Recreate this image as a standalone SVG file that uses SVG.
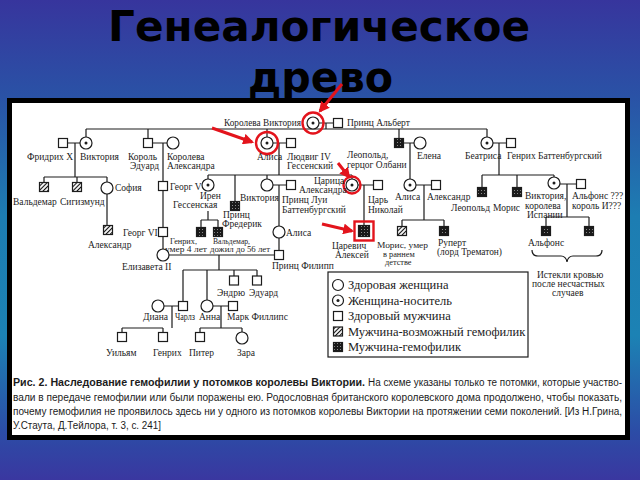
<svg xmlns="http://www.w3.org/2000/svg" width="640" height="480" viewBox="0 0 640 480">
<defs>
<linearGradient id="bg" x1="0" y1="0" x2="0" y2="1">
<stop offset="0" stop-color="#37359d"/>
<stop offset="0.2" stop-color="#2a52a6"/>
<stop offset="0.45" stop-color="#1d7db2"/>
<stop offset="0.7" stop-color="#1c82b4"/>
<stop offset="0.9" stop-color="#2c4ca6"/>
<stop offset="1" stop-color="#3a37a0"/>
</linearGradient>
<pattern id="hatch" width="3" height="3" patternUnits="userSpaceOnUse" patternTransform="rotate(45)">
<rect width="3" height="3" fill="#fff"/>
<line x1="0.5" y1="0" x2="0.5" y2="3" stroke="#111" stroke-width="1.2"/>
</pattern>
<pattern id="hemo" width="3" height="3" patternUnits="userSpaceOnUse">
<rect width="3" height="3" fill="#1a1a1a"/>
<rect x="1" y="1" width="1" height="1" fill="#8a8a8a"/>
</pattern>
<marker id="ra" viewBox="0 0 10 10" refX="8" refY="5" markerWidth="11" markerHeight="11" markerUnits="userSpaceOnUse" orient="auto">
<path d="M0,0 L10,5 L0,10 z" fill="#e3141c"/>
</marker>
<style>
.title{font-family:"DejaVu Sans","Liberation Sans",sans-serif;font-weight:bold;font-size:42px;fill:#000}
.t{font-family:"Liberation Serif","Times New Roman",serif;font-size:9.5px;fill:#1c1c1c}
.s{font-size:8.3px}
.lg{font-family:"Liberation Serif","Times New Roman",serif;font-size:12.5px;fill:#1c1c1c}
.cap{font-family:"Liberation Sans",Arial,sans-serif;font-size:10px;fill:#1c1c1c}
.capb{font-weight:bold}
.f{fill:#fff;stroke:#1c1c1c;stroke-width:1.2}
.m{fill:#fff;stroke:#1c1c1c;stroke-width:1.2}
.h{fill:url(#hatch);stroke:#1c1c1c;stroke-width:1.2}
.x{fill:url(#hemo);stroke:#1c1c1c;stroke-width:1.2}
.dot{fill:#1c1c1c}
.ln{fill:none;stroke:#1c1c1c;stroke-width:1.2}
.red{fill:none;stroke:#e3141c;stroke-width:2.4}
.arr{fill:none;stroke:#e3141c;stroke-width:3;marker-end:url(#ra)}
</style>
</defs>

<rect width="640" height="480" fill="url(#bg)"/>

<text class="title" x="108" y="41" textLength="422" lengthAdjust="spacingAndGlyphs">Генеалогическое</text>
<text class="title" x="248" y="92" textLength="145" lengthAdjust="spacingAndGlyphs">древо</text>

<rect x="9.5" y="100.5" width="618" height="337" fill="#fff" stroke="#000" stroke-width="5"/>

<g id="connectors">
<path class="ln" d="M319,123 H333.5 M326,123 V129 M86,129 H487"/>
<path class="ln" d="M86,129 V137 M148,129 V138.5 M267,129 V137 M399,129 V138.5 M487,129 V137"/>
<path class="ln" d="M67.5,143 H80 M75,143 V177 M44,177 H107 M44,177 V182.5 M77,177 V182.5 M107,177 V182 M107,194 V225.5"/>
<path class="ln" d="M152.5,143 H167 M163,143 V181.5 M163,190.5 V227.5 M163,236.5 V249"/>
<path class="ln" d="M273,143 H286.5 M279,143 V175 M208,175 H352 M208,175 V179 M235,175 V201.5 M267,175 V179 M352,175 V179"/>
<path class="ln" d="M208,211 V220 M201,220 H218 M201,220 V227.5 M218,220 V227.5"/>
<path class="ln" d="M273,185 H286.5 M279,185 V226 M279,238 V250.5"/>
<path class="ln" d="M358,185 H373.5 M364,185 V225.5"/>
<path class="ln" d="M403.5,143 H414 M410,143 V179 M416,185 H431.5 M424,185 V220 M402,220 H444 M402,220 V226.5 M444,220 V226.5"/>
<path class="ln" d="M493,143 H506.5 M499,143 V175 M482,175 H554 M482,175 V187.5 M517,175 V187.5 M554,175 V177"/>
<path class="ln" d="M560,184 H576.5 M567,184 V217 M546,217 H589 M546,217 V226.5 M589,217 V226.5"/>
<path class="ln" d="M169,255 H274.5 M219,255 V270 M183,270 H257 M183,270 V301.5 M207,270 V300 M234,270 V276 M257,270 V276"/>
<path class="ln" d="M164,306 H178.5 M172,306 V328 M122,328 H163 M122,328 V332.5 M163,328 V332.5"/>
<path class="ln" d="M213,306 H228.5 M221,306 V328 M200,328 H242 M200,328 V332.5 M242,328 V332"/>
<path class="ln" d="M532,250 q0,6 6,6 h23 q5,0 6,6 q1,-6 6,-6 h23 q6,0 6,-6"/>
</g>

<g id="n-victoria"><circle class="f" cx="313" cy="123" r="6"/><circle class="dot" cx="313" cy="123" r="1.5"/><circle class="red" cx="313" cy="123" r="10.5"/><text class="t" x="224" y="126" textLength="77" lengthAdjust="spacingAndGlyphs">Королева Виктория</text></g>
<g id="n-albert"><rect class="m" x="333.5" y="118.5" width="9" height="9"/><text class="t" x="347" y="126">Принц Альберт</text></g>

<g id="n-friedrich"><rect class="m" x="58.5" y="138.5" width="9" height="9"/><text class="t" x="27" y="160">Фридрих X</text></g>
<g id="n-victoria2"><circle class="f" cx="86" cy="143" r="6"/><circle class="dot" cx="86" cy="143" r="1.5"/><text class="t" x="80" y="160">Виктория</text></g>
<g id="n-edward"><rect class="m" x="143.5" y="138.5" width="9" height="9"/><text class="t" x="128" y="160">Король</text><text class="t" x="130" y="169">Эдуард</text></g>
<g id="n-alexandra"><circle class="f" cx="173" cy="143" r="6"/><text class="t" x="167" y="160">Королева</text><text class="t" x="167" y="169">Александра</text></g>
<g id="n-alice"><circle class="f" cx="267" cy="143" r="6"/><circle class="dot" cx="267" cy="143" r="1.5"/><circle class="red" cx="267" cy="143" r="11"/><text class="t" x="257" y="160">Алиса</text></g>
<g id="n-ludwig"><rect class="m" x="286.5" y="138.5" width="9" height="9"/><text class="t" x="287" y="160">Людвиг IV</text><text class="t" x="287" y="169">Гессенский</text></g>
<g id="n-leopold"><rect class="x" x="394.5" y="138.5" width="9" height="9"/><text class="t" x="347" y="158">Леопольд,</text><text class="t" x="347" y="168">герцог Олбани</text></g>
<g id="n-elena"><circle class="f" cx="420" cy="143" r="6"/><text class="t" x="417" y="159">Елена</text></g>
<g id="n-beatrice"><circle class="f" cx="487" cy="143" r="6"/><circle class="dot" cx="487" cy="143" r="1.5"/><text class="t" x="465" y="159">Беатриса</text></g>
<g id="n-henry-b"><rect class="m" x="506.5" y="138.5" width="9" height="9"/><text class="t" x="507" y="159">Генрих Баттенбургский</text></g>

<g id="n-waldemar1"><rect class="h" x="39.5" y="182.5" width="9" height="9"/><text class="t" x="13" y="205">Вальдемар</text></g>
<g id="n-sigismund"><rect class="h" x="72.5" y="182.5" width="9" height="9"/><text class="t" x="60" y="205">Сигизмунд</text></g>
<g id="n-sophia"><circle class="f" cx="107" cy="188" r="6"/><text class="t" x="115" y="191">София</text></g>
<g id="n-george5"><rect class="m" x="158.5" y="181.5" width="9" height="9"/><text class="t" x="170" y="190">Георг V</text></g>
<g id="n-irene"><circle class="f" cx="208" cy="185" r="6"/><circle class="dot" cx="208" cy="185" r="1.5"/><text class="t" x="200" y="199">Ирен</text><text class="t" x="173" y="208">Гессенская</text></g>
<g id="n-frederick"><rect class="x" x="230.5" y="201.5" width="9" height="9"/><text class="t" x="223" y="218">Принц</text><text class="t" x="222" y="227">Фредерик</text></g>
<g id="n-victoria3"><circle class="f" cx="267" cy="185" r="6"/><text class="t" x="240" y="201">Виктория</text></g>
<g id="n-louis"><rect class="m" x="286.5" y="180.5" width="9" height="9"/><text class="t" x="282" y="203">Принц Луи</text><text class="t" x="282" y="213">Баттенбургский</text></g>
<g id="n-tsarina"><circle class="f" cx="352" cy="185" r="6"/><circle class="dot" cx="352" cy="185" r="1.5"/><circle class="red" cx="352" cy="185" r="8.5"/><text class="t" x="314" y="184">Царица</text><text class="t" x="299" y="193">Александра</text></g>
<g id="n-nicholas"><rect class="m" x="373.5" y="180.5" width="9" height="9"/><text class="t" x="368" y="203">Царь</text><text class="t" x="368" y="213">Николай</text></g>
<g id="n-alice2"><circle class="f" cx="410" cy="185" r="6"/><circle class="dot" cx="410" cy="185" r="1.5"/><text class="t" x="395" y="200">Алиса</text></g>
<g id="n-alexander"><rect class="m" x="431.5" y="180.5" width="9" height="9"/><text class="t" x="427" y="200">Александр</text></g>
<g id="n-leopold2"><rect class="x" x="477.5" y="187.5" width="9" height="9"/><text class="t" x="451" y="211">Леопольд</text></g>
<g id="n-maurice"><rect class="x" x="512.5" y="187.5" width="9" height="9"/><text class="t" x="493" y="211">Морис</text></g>
<g id="n-victoria-es"><circle class="f" cx="554" cy="183" r="6"/><circle class="dot" cx="554" cy="183" r="1.5"/><text class="t" x="525" y="199">Виктория,</text><text class="t" x="525" y="209">королева</text><text class="t" x="527" y="218">Испании</text></g>
<g id="n-alfonso"><rect class="m" x="576.5" y="179.5" width="9" height="9"/><text class="t" x="572" y="199">Альфонс ???</text><text class="t" x="572" y="209">король И???</text></g>

<g id="n-alexander2"><rect class="h" x="103.5" y="225.5" width="9" height="9"/><text class="t" x="88" y="248">Александр</text></g>
<g id="n-george6"><rect class="m" x="158.5" y="227.5" width="9" height="9"/><text class="t" x="123" y="236">Георг VI</text></g>
<g id="n-heinrich"><rect class="x" x="196.5" y="227.5" width="9" height="9"/><text class="t s" x="170" y="244" textLength="27" lengthAdjust="spacingAndGlyphs">Генрих,</text><text class="t s" x="165" y="252" textLength="42" lengthAdjust="spacingAndGlyphs">умер 4 лет</text></g>
<g id="n-waldemar2"><rect class="x" x="213.5" y="227.5" width="9" height="9"/><text class="t s" x="213" y="244" textLength="37" lengthAdjust="spacingAndGlyphs">Вальдемар,</text><text class="t s" x="210" y="252" textLength="60" lengthAdjust="spacingAndGlyphs">дожил до 56 лет</text></g>
<g id="n-alice3"><circle class="f" cx="279" cy="232" r="6"/><text class="t" x="286" y="236">Алиса</text></g>
<g id="n-alexei"><rect class="x" x="358.5" y="225.5" width="11" height="11"/><rect class="red" x="354.5" y="221.5" width="19" height="19"/><text class="t" x="332" y="249">Царевич</text><text class="t" x="335" y="258">Алексей</text></g>
<g id="n-maurice2"><rect class="h" x="397.5" y="226.5" width="9" height="9"/><text class="t s" x="377" y="248" textLength="51" lengthAdjust="spacingAndGlyphs">Морис, умер</text><text class="t s" x="383" y="256.5">в раннем</text><text class="t s" x="385" y="265">детстве</text></g>
<g id="n-rupert"><rect class="x" x="439.5" y="226.5" width="9" height="9"/><text class="t" x="438" y="246">Руперт</text><text class="t" x="437" y="255" textLength="65" lengthAdjust="spacingAndGlyphs">(лорд Трематон)</text></g>
<g id="n-alfonso2"><rect class="x" x="541.5" y="226.5" width="9" height="9"/><text class="t" x="528" y="246">Альфонс</text></g>
<g id="n-gonzalo"><rect class="x" x="584.5" y="226.5" width="9" height="9"/></g>
<g id="n-brace-note"><text class="t" x="537" y="278">Истекли кровью</text><text class="t" x="532" y="287">после несчастных</text><text class="t" x="552" y="296">случаев</text></g>

<g id="n-elizabeth"><circle class="f" cx="163" cy="255" r="6"/><text class="t" x="122" y="270">Елизавета II</text></g>
<g id="n-philip"><rect class="m" x="274.5" y="250.5" width="9" height="9"/><text class="t" x="272" y="269">Принц Филипп</text></g>

<g id="n-andrew"><rect class="m" x="229.5" y="276" width="9" height="9"/><text class="t" x="217" y="296">Эндрю</text></g>
<g id="n-edward2"><rect class="m" x="252.5" y="276" width="9" height="9"/><text class="t" x="249" y="296">Эдуард</text></g>
<g id="n-diana"><circle class="f" cx="158" cy="306" r="6"/><text class="t" x="143" y="320">Диана</text></g>
<g id="n-charles"><rect class="m" x="178.5" y="301.5" width="9" height="9"/><text class="t" x="175" y="320" textLength="20" lengthAdjust="spacingAndGlyphs">Чарлз</text></g>
<g id="n-anne"><circle class="f" cx="207" cy="306" r="6"/><text class="t" x="199" y="320">Анна</text></g>
<g id="n-mark"><rect class="m" x="228.5" y="301.5" width="9" height="9"/><text class="t" x="227" y="320">Марк Филлипс</text></g>
<g id="n-william"><rect class="m" x="117.5" y="332.5" width="9" height="9"/><text class="t" x="106" y="356">Уильям</text></g>
<g id="n-harry"><rect class="m" x="158.5" y="332.5" width="9" height="9"/><text class="t" x="153" y="356">Генрих</text></g>
<g id="n-peter"><rect class="m" x="195.5" y="332.5" width="9" height="9"/><text class="t" x="189" y="356">Питер</text></g>
<g id="n-zara"><circle class="f" cx="242" cy="338" r="6"/><text class="t" x="237" y="356">Зара</text></g>

<g id="legend">
<rect x="328" y="272" width="200" height="85" fill="#fff" stroke="#1c1c1c" stroke-width="1.2"/>
<circle class="f" cx="338" cy="285" r="5.5"/><text class="lg" x="348" y="289">Здоровая женщина</text>
<circle class="f" cx="338" cy="300.5" r="5.5"/><circle class="dot" cx="338" cy="300.5" r="1.5"/><text class="lg" x="348" y="304.5">Женщина-носитель</text>
<rect class="m" x="333.5" y="311.5" width="9" height="9"/><text class="lg" x="348" y="320">Здоровый мужчина</text>
<rect class="h" x="333.5" y="327" width="9" height="9"/><text class="lg" x="348" y="335.5">Мужчина-возможный гемофилик</text>
<rect class="x" x="333.5" y="342.5" width="9" height="9"/><text class="lg" x="348" y="351">Мужчина-гемофилик</text>
</g>

<g id="arrows">
<line class="arr" x1="342" y1="84" x2="320" y2="111"/>
<line class="arr" x1="212" y1="128" x2="252" y2="142"/>
<line class="arr" x1="338" y1="163" x2="349" y2="177"/>
<line class="arr" x1="322" y1="224" x2="352" y2="231"/>
</g>

<g id="caption">
<text class="cap" y="386"><tspan class="capb" x="13" textLength="352" lengthAdjust="spacingAndGlyphs">Рис. 2. Наследование гемофилии у потомков королевы Виктории.</tspan><tspan x="368" textLength="254" lengthAdjust="spacingAndGlyphs">На схеме указаны только те потомки, которые участво-</tspan></text>
<text class="cap" x="13" y="401" textLength="609" lengthAdjust="spacingAndGlyphs">вали в передаче гемофилии или были поражены ею. Родословная британского королевского дома продолжено, чтобы показать,</text>
<text class="cap" x="13" y="415" textLength="609" lengthAdjust="spacingAndGlyphs">почему гемофилия не проявилось здесь ни у одного из потомков королевы Виктории на протяжении семи поколений. [Из Н.Грина,</text>
<text class="cap" x="13" y="429" textLength="148" lengthAdjust="spacingAndGlyphs">У.Стаута, Д.Тейлора, т. 3, с. 241]</text>
</g>
</svg>
